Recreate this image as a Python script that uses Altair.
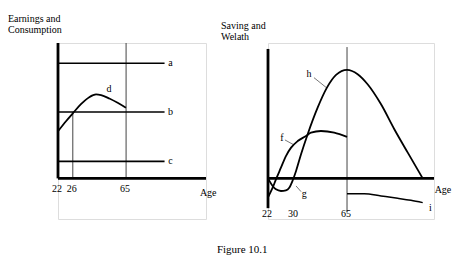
import altair as alt
import pandas as pd

# ---------------- data (stylised units: x = position along age axis 0-100, y = level) -------------
# Left panel: earnings and consumption
L_levels = [85, 49, 12.6]            # lines a, b, c
L_level_names = ["a", "b", "c"]
L_level_end = 72
L_age26 = 10
L_age65 = 46
d_x = [0, 5.4, 9.9, 15.5, 21.1, 25.7, 29.1, 34.7, 40.3, 45.9]
d_y = [34.8, 42.2, 47.9, 54.8, 60, 62, 61.5, 59, 55.8, 52.1]
L_tick_pos = [0, 10, 46]
L_tick_lab = ["22", "26", "65"]

# Right panel: saving and wealth
R_age65 = 47.6
h_x = [0, 2.8, 4.8, 7.8, 10.8, 12.8, 14.9, 16.9, 19.9, 23.9, 29.9, 35.5, 41, 47.6,
       54, 60, 68.1, 76.1, 84.2, 93.2]
h_y = [0, -5.6, -8.1, -9.3, -8.8, -6.9, -1.4, 5.5, 17.8, 32.6, 52.2, 67, 76.4, 80.1,
       76.9, 69.5, 54.7, 36.3, 19, 0]
f_x = [0, 2.8, 4.8, 7.8, 10.8, 13.9, 17.9, 22.9, 25.9, 31.9, 39.9, 47.6]
f_y = [-14, -6.9, -0.7, 7.9, 16.5, 22.7, 27.6, 31.3, 33.8, 35, 33.8, 30.6]
i_x = [47.6, 58, 68.1, 78.1, 86.1, 93.2]
i_y = [-11.3, -11.3, -13, -14.7, -16.2, -17.9]
R_tick_pos = [0, 15.7, 47.6]
R_tick_lab = ["22", "30", "65"]

FONT = "Liberation Serif"
YDOM = [-30, 100]
H = 176


def enc(chart, xdom):
    return chart.encode(
        x=alt.X("x:Q", scale=alt.Scale(domain=xdom, nice=False, zero=False), axis=None),
        y=alt.Y("y:Q", scale=alt.Scale(domain=YDOM, nice=False, zero=False), axis=None),
    )


def rules(rows, width, color="black"):
    df = pd.DataFrame(rows, columns=["x", "y", "x2", "y2"])
    return alt.Chart(df).mark_rule(color=color, strokeWidth=width).encode(
        x="x:Q", y="y:Q", x2="x2:Q", y2="y2:Q")


def curve(xs, ys, width=1.8):
    df = pd.DataFrame({"x": xs, "y": ys, "i": range(len(xs))})
    return alt.Chart(df).mark_line(color="black", strokeWidth=width, interpolate="monotone").encode(
        order="i:Q")


def texts(rows, size=10, align="center", dx=0):
    df = pd.DataFrame(rows, columns=["x", "y", "t"])
    return alt.Chart(df).mark_text(font=FONT, fontSize=size, align=align, baseline="middle",
                                   color="black", dx=dx).encode(text="t:N")


def layer_panel(parts, xdom, width):
    return alt.layer(*[enc(p, xdom) for p in parts]).properties(width=width, height=H)


# ---------------- left panel ----------------
left_parts = [
    rules([(L_age65, 0, L_age65, 100), (L_age26, 0, L_age26, L_levels[1])], 1, "#444"),
    rules([(0, v, L_level_end, v) for v in L_levels], 1.6),
    curve(d_x, d_y),
    rules([(0, 0, 100, 0), (0, 0, 0, 100)], 2.8),
    texts([(L_level_end + 4, v, n) for v, n in zip(L_levels, L_level_names)]),
    texts([(34.5, 66, "d")]),
    texts([(p, -7.8, l) for p, l in zip(L_tick_pos, L_tick_lab)], dx=-1),
    texts([(101.5, -10.8, "Age")]),
    texts([(-33.8, 117.8, "Earnings and"), (-33.8, 109.6, "Consumption")], align="left"),
    texts([(124.5, -53.2, "Figure 10.1")], size=11),
]
left = layer_panel(left_parts, [0, 100], 148)

# ---------------- right panel ----------------
right_parts = [
    rules([(R_age65, -24.8, R_age65, 97)], 1, "#444"),
    rules([(27.7, 74.4, 35.5, 66.7), (10.2, 28.4, 15.7, 24.7), (16.9, -5.6, 19.9, -9.8)], 0.8, "#555"),
    curve(h_x, h_y),
    curve(f_x, f_y),
    curve(i_x, i_y, 1.5),
    rules([(0, 0, 100, 0), (0, -22, 0, 95.6)], 2.8),
    texts([(24.7, 77, "h"), (8.4, 29.9, "f"), (21.9, -11.3, "g"), (97.8, -21.9, "i")]),
    texts([(p, -26.3, l) for p, l in zip(R_tick_pos, R_tick_lab)], dx=-1),
    texts([(105.4, -8.6, "Age")]),
    texts([(-28.3, 112.6, "Saving and"), (-28.3, 104.4, "Welath")], align="left"),
]
right = layer_panel(right_parts, [0, 100], 166)

chart = alt.hconcat(left, right, spacing=62, bounds="flush").properties(
    autosize=alt.AutoSizeParams(type="pad"),
    padding={"left": 7, "top": 13, "right": 0, "bottom": 0},
).configure_view(strokeWidth=0).configure(background="white")

chart.save("out.html", embed_options={"renderer": "svg", "actions": False})
